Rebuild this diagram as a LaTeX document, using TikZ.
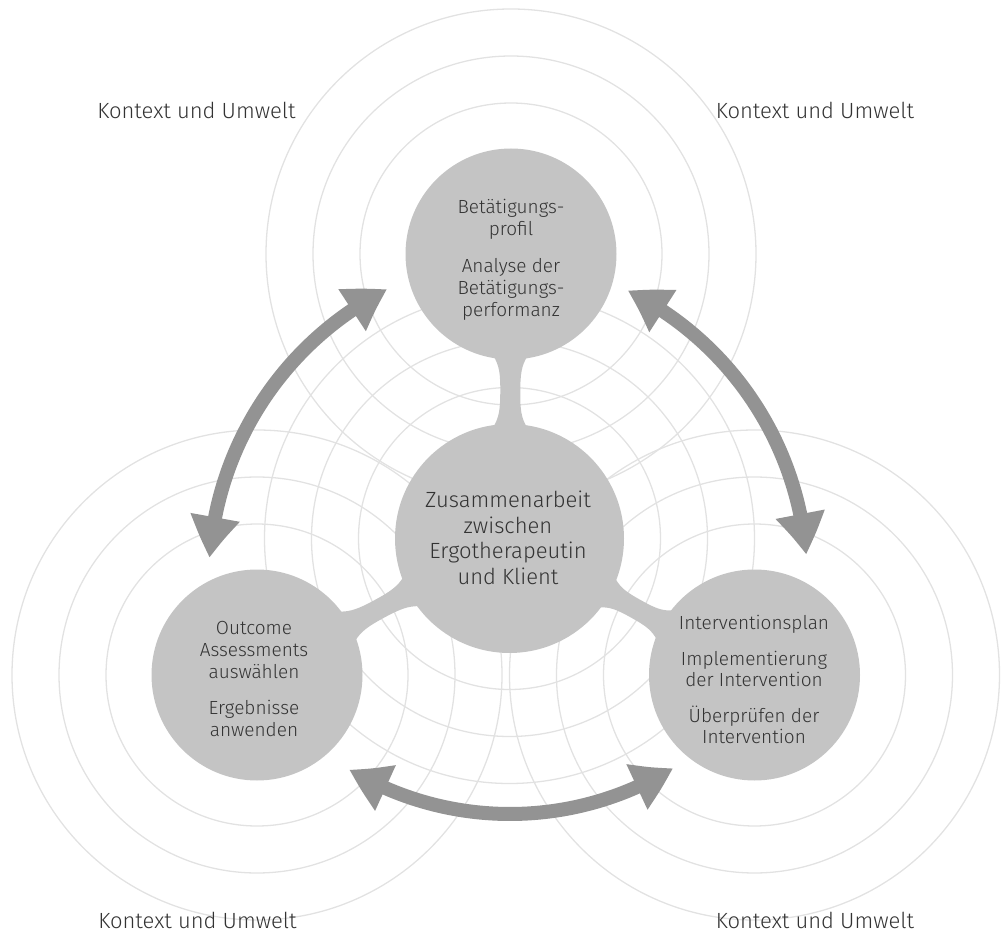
\documentclass[tikz,border=0pt]{standalone}
\usepackage{fontspec}
\setmainfont{Fira Sans}[UprightFont={* Light}]
\usetikzlibrary{arrows.meta,bending}
\definecolor{ringc}{HTML}{E2E2E2}
\definecolor{discc}{HTML}{C4C4C4}
\definecolor{arrc}{HTML}{939393}
\definecolor{txtc}{HTML}{333333}
\begin{document}
\begin{tikzpicture}[x=1pt,y=-1pt,
  ring/.style={draw=ringc, line width=1.3pt},
  disc/.style={circle, fill=discc, inner sep=0pt},
  bigarrow/.style={draw=arrc, line width=14pt,
    {Triangle[length=41pt,width=47pt,bend]}-{Triangle[length=41pt,width=47pt,bend]}},
  lbl/.style={text=txtc, align=center, inner sep=0pt},
  ctx/.style={text=txtc, anchor=base, inner sep=0pt, font=\fontsize{22}{26}\selectfont},
  small/.style={font=\fontsize{19}{22}\selectfont},
]
\useasboundingbox (0,0) rectangle (1002,947);
\coordinate (cT) at (511,254);
\coordinate (cM) at (509.5,538.5);
\coordinate (cL) at (257,675);
\coordinate (cR) at (754.5,675);
% rings
\foreach \c in {cT,cM,cL,cR}
  \foreach \r in {151,198,245}
    \draw[ring] (\c) circle[radius=\r];
% stems
\foreach \ang/\len in {89.7/284.5, 208.4/287, -29.1/280.5} {
  \begin{scope}[shift={(cM)}, rotate=\ang]
    \pgfmathsetmacro\m{(114.5+\len-105.5)/2}
    \fill[discc] (111,17) .. controls (121,11) and (\m-18,10) .. (\m,10)
      .. controls (\m+18,10) and (\len-112,11) .. (\len-102,17)
      -- (\len-102,-17) .. controls (\len-112,-11) and (\m+18,-10) .. (\m,-10)
      .. controls (\m-18,-10) and (121,-11) .. (111,-17) -- cycle;
  \end{scope}
}
% discs
\node[disc, minimum size=211pt] (dT) at (cT) {};
\node[disc, minimum size=229pt] (dM) at (cM) {};
\node[disc, minimum size=211pt] (dL) at (cL) {};
\node[disc, minimum size=211pt] (dR) at (cR) {};
% arrows
\coordinate (aL) at (535,580);
\coordinate (aR) at (484,580);
\coordinate (aB) at (510,502);
\draw[bigarrow] ([shift={(-116.96:326)}]aL) arc[start angle=-116.96, end angle=-176.1, radius=326];
\draw[bigarrow] ([shift={(-63.6:323)}]aR) arc[start angle=-63.6, end angle=-4.5, radius=323];
\draw[bigarrow] ([shift={(121:312)}]aB) arc[start angle=121, end angle=58.5, radius=312];
% texts
\node[lbl, small] (tT) at (511,260) {Betätigungs-\\profil\\[15pt]Analyse der\\Betätigungs-\\performanz};
\node[lbl, font=\fontsize{22}{25.5}\selectfont] (tM) at (508,538) {Zusammenarbeit\\zwischen\\Ergotherapeutin\\und Klient};
\node[lbl, small] (tL) at (254,679) {Outcome\\Assessments\\auswählen\\[14pt]Ergebnisse\\anwenden};
\node[lbl, font=\fontsize{19}{20.5}\selectfont] (tR) at (754,679) {Interventionsplan\\[16pt]Implementierung\\der Intervention\\[16pt]Überprüfen der\\Intervention};
\node[ctx] (kTL) at (196.5,119) {Kontext und Umwelt};
\node[ctx] (kTR) at (815,119) {Kontext und Umwelt};
\node[ctx] (kBL) at (197.5,928) {Kontext und Umwelt};
\node[ctx] (kBR) at (815,928) {Kontext und Umwelt};
\end{tikzpicture}
\end{document}
